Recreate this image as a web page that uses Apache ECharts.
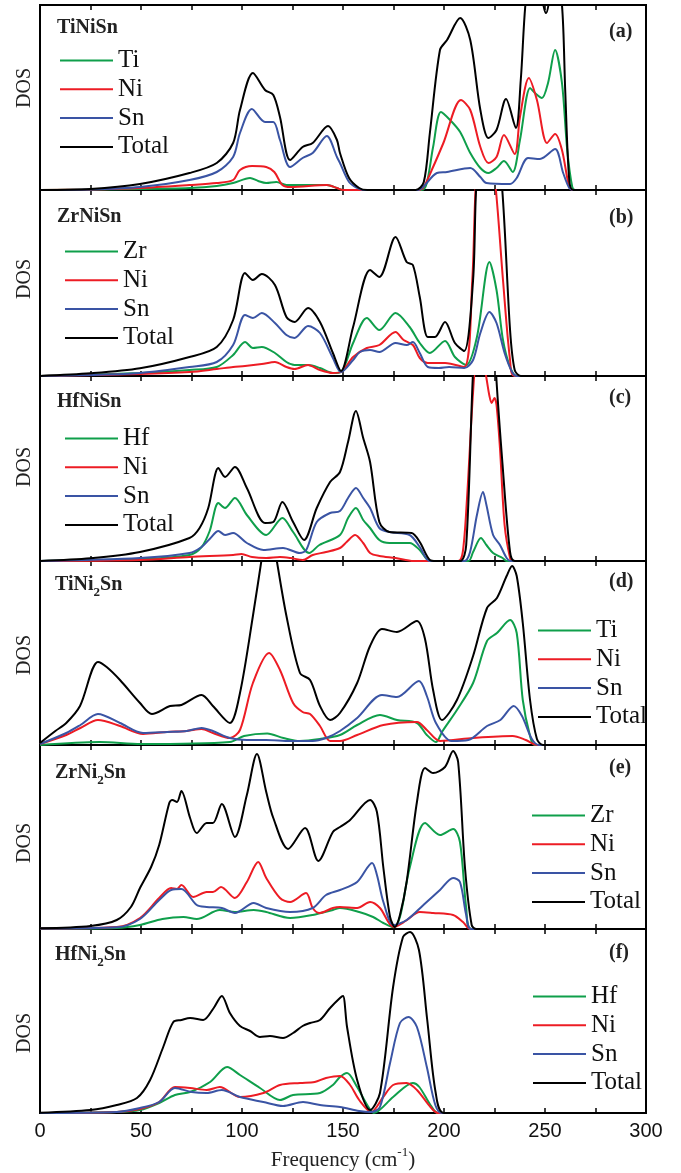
<!DOCTYPE html>
<html>
<head>
<meta charset="utf-8">
<script src="https://cdn.jsdelivr.net/npm/echarts@6/dist/echarts.min.js"></script>
<style>
  html, body { margin: 0; padding: 0; background: #fff; }
  #main { width: 681px; height: 1173px; }
</style>
</head>
<body>
<div id="main"></div>
<script>
// phonon DOS (arbitrary units, [frequency cm-1, DOS])
const compounds = ['TiNiSn', 'ZrNiSn', 'HfNiSn', 'TiNi2Sn', 'ZrNi2Sn', 'HfNi2Sn']
const panelTags = ['(a)', '(b)', '(c)', '(d)', '(e)', '(f)']
const elements = [
  ['Ti', 'Ni', 'Sn', 'Total'],
  ['Zr', 'Ni', 'Sn', 'Total'],
  ['Hf', 'Ni', 'Sn', 'Total'],
  ['Ti', 'Ni', 'Sn', 'Total'],
  ['Zr', 'Ni', 'Sn', 'Total'],
  ['Hf', 'Ni', 'Sn', 'Total']
]

// (a) TiNiSn
const aTi = [[0,0],[49.5,1],[74,2],[87.5,4],[95.6,7],[104,12],[108,9],[112,7],[117,8],[122,5],[130,5],[142,5],[147,2],[150,0],[189,0],[191.5,7],[194.6,43],[198.5,78],[203,70],[208,58],[213,37],[218,22],[222,17],[226,22],[229.7,29],[234,18],[237.6,50],[242.6,102],[245,97],[248.5,92],[251.5,107],[255,140],[258.4,107],[261,40],[263.5,3],[265,0],[300,0]]
const aNi = [[0,0],[25,0.5],[49.5,2],[74,5],[87.5,7],[95.6,10],[99,20],[105,24],[112,23],[116,18],[120,5],[124,3],[142,5],[147,2],[150,0],[187,0],[189.6,2],[194.6,23],[199.7,47],[208.4,90],[213,80],[218,43],[222,27],[226,33],[229.7,55],[235,36],[237.6,73],[242,112],[246,90],[251,47],[255,56],[258.4,40],[262,3],[264,0],[300,0]]
const aSn = [[0,0],[25,0.5],[49.5,3],[74,10],[87.5,18],[95.6,33],[99,57],[104.9,81],[111.4,68],[115.5,68],[118.8,50],[123.8,23],[130,32],[135,37],[142,54],[147,33],[148.5,27],[153,8],[157,2],[160,0],[187,0],[189.6,3],[196.5,17],[201.5,18],[213,22],[218,13],[221,7],[232.7,6],[236,12],[241.6,32],[247.5,31],[255,41],[259,17],[262,2],[264,0],[300,0]]
const aTotal = [[0,0],[25,1],[49.5,6],[74,17],[87.5,27],[95.6,47],[99,80],[105.4,117],[111.4,100],[115.5,95],[118.8,73],[123.8,30],[130,43],[135,47],[142.6,64],[147,50],[148.5,37],[153,12],[158,2],[162,0],[186,0],[190,8],[193,57],[198,140],[201.5,150],[208,172],[213,150],[218,80],[222,52],[226,60],[230.7,91],[235.6,62],[238,110],[241,200],[245,225],[250.5,177],[255,225],[258.4,185],[260,100],[262,10],[264,0],[300,0]]

// (b) ZrNiSn
const bZr = [[0,0],[49.5,3],[74,6],[87.5,9],[95.6,21],[101.5,34],[105.4,28],[109.8,29],[116.3,23],[122,14],[126,11],[132.7,11],[138.6,8],[145,3],[149,4],[155,33],[161.8,58],[168,46],[176,63],[183,49],[188,33],[193,23],[200.5,35],[205.4,19],[211,11],[216.3,39],[222.5,114],[226,86],[229.2,36],[232.7,9],[236,0],[300,0]]
const bNi = [[0,0],[49.5,2],[74,4],[87.5,7],[95.6,9],[101.5,10],[109.8,12],[116.3,14],[122,9],[126,7],[132.7,11],[138.6,6],[145,3],[149,4],[155,19],[161.8,28],[168,31],[176,44],[180,36],[184.6,31],[188,18],[192,13],[200.5,13],[210,9],[214,96],[216,200],[220,260],[225,200],[229.2,96],[232.7,16],[235,0],[300,0]]
const bSn = [[0,0],[25,1],[49.5,3],[74,9],[87.5,14],[95.6,31],[101.5,61],[105.4,58],[109.8,63],[116.3,53],[122,41],[126,38],[132.7,50],[138.6,43],[145,18],[149,4],[155,16],[158.4,24],[163.4,26],[168,24],[176,33],[181.5,31],[184.6,34],[188,23],[192,9],[197.5,8],[202.5,9],[210,8],[214.4,16],[218,43],[222.5,64],[226,53],[230,23],[233.7,4],[236,0],[300,0]]
const bTotal = [[0,0],[25,2.7],[49.5,7.7],[74,19],[87.5,29],[95.6,56],[101.5,103],[105.4,96],[109.8,102],[116.3,91],[122,59],[126,54],[132.7,68],[138.6,54],[145,23],[149,5],[155,49],[163.4,106],[168,99],[176,139],[181.5,114],[184.6,111],[188,79],[192,39],[195.5,39],[200.5,54],[205.4,33],[210,25],[214.4,96],[216,190],[219,240],[225,240],[228.7,190],[232.7,46],[235,6],[238,0],[300,0]]

// (c) HfNiSn
const cHf = [[0,0],[49.5,2],[74,6],[80,14],[84,30],[88.3,58],[91.6,53],[96.5,63],[102.4,46],[112,26],[120,43],[125.3,29],[133.3,8],[138.3,16],[148.5,26],[152.5,43],[156.4,53],[160,41],[163.4,33],[168,21],[173,18],[183,18],[188,11],[193,0],[212,0],[214.4,9],[218.3,23],[221,16],[224.3,8],[229,3],[231,0],[300,0]]
const cNi = [[0,0],[49.5,1],[74,4],[95.6,6],[99.7,7],[105,4],[112,3],[118.8,4],[124,3],[130,1],[135,6],[141.6,9],[148.5,13],[151.8,19],[156,26],[160,18],[163.4,8],[168,5],[176,3],[185,0],[207,0],[209.3,9],[211.4,63],[214.4,169],[216,200],[219,205],[221,183],[222.5,165],[223.6,158],[225,163],[226,156],[227.7,113],[230,36],[232.7,3],[234,0],[300,0]]
const cSn = [[0,0],[49.5,3],[74,8],[80,14],[84,22],[88.3,30],[91.6,26],[95.6,28],[102.4,18],[110.6,11],[120.3,13],[128.6,8],[131.8,11],[137,39],[143.6,48],[148.5,50],[152.5,63],[156.4,73],[160,63],[163.4,53],[168,33],[173,29],[183,26],[188,14],[193,0],[210,0],[212.9,9],[216.3,46],[219.3,69],[221,56],[224.3,26],[227.7,16],[231,3],[233,0],[300,0]]
const cTotal = [[0,0],[25,2.7],[49.5,9],[74,23],[79,33],[83.3,53],[88.3,93],[91.6,84],[96.5,94],[102.4,73],[111.4,38],[115.5,39],[120,59],[125.3,39],[130.7,21],[137,53],[143.6,79],[148.5,89],[152.5,119],[156.4,150],[160,123],[163.4,99],[168,39],[173,29],[184,28],[188,19],[193,1],[196,0],[208,0],[211,16],[214.4,190],[218,300],[223,300],[225.7,190],[229,96],[232.7,9],[235,0],[300,0]]

// (d) TiNi2Sn
const dTi = [[0,0],[29.5,3],[50,1],[94,3],[101,9],[112.5,11.5],[120.5,7],[128.6,4],[138.6,6],[148.5,10],[157,20],[168.3,30],[176.7,25],[186.6,22],[191.5,10],[196,3],[199.3,14],[206.4,35],[214.4,62],[221.3,104],[226.2,112],[232.7,125],[236,112],[239,45],[242.6,9],[245,0],[300,0]]
const dNi = [[0,1],[13,10],[20,17],[28.7,25],[39.6,19],[51,11],[62.9,13],[72.6,14],[80,16],[85.6,12],[94,7],[99,15],[105.4,62],[113.4,92],[118.8,75],[125.3,42],[130,33],[133.7,31],[138.6,19],[143.6,4],[148.5,4],[157,10],[170,20],[186.6,23],[191.5,15],[198,4],[214.4,7],[234,9],[240.5,5],[246,0],[300,0]]
const dSn = [[0,1],[13,12],[20,20],[28.7,31],[39.6,22],[51,12],[62.9,13],[72.6,14],[80,17],[85.6,14],[94,7],[102.4,5],[112,5],[124,4],[135,4],[141.6,7],[148.5,14],[157,27],[169.3,50],[176.7,48],[187.6,64],[191.5,49],[196,22],[203.7,4],[212,5],[221.3,19],[227.9,25],[234.5,39],[238.6,29],[243.5,6],[247,0],[300,0]]
const dTotal = [[0,2],[7.6,14],[13,22],[19.8,39],[28.7,83],[33,78],[39.6,65],[49.5,42],[55.4,31],[64.4,39],[70,40],[80,50],[85.6,39],[94,22],[99,52],[105.4,129],[110.4,195],[113,230],[116.3,195],[122,129],[128.7,72],[133.7,65],[138.6,39],[143.6,25],[148.5,32],[157,62],[163.4,99],[169.3,116],[176.7,113],[186.6,124],[190.6,106],[194.6,55],[199,25],[206.4,45],[214.4,89],[221.3,137],[226.2,147],[231,169],[233.7,179],[236,169],[239,122],[242.6,45],[246,6],[249,0],[300,0]]

// (e) ZrNi2Sn
const eZr = [[0,0.3],[38,1],[49.5,4],[60.6,10],[71,12],[77.6,10],[89,19],[96.5,17],[105.8,19],[112,17],[123.8,11],[135,14],[145,19],[148.5,21],[158,17],[164.9,12],[170,6],[175,1.7],[178.2,12],[183,61],[190.6,106],[198,94],[204.5,100],[207.9,87],[211,21],[213.5,0],[300,0]]
const eNi = [[0,0.5],[38,2],[49.5,11],[59,31],[64.9,41],[67.8,40],[70,44],[75.9,32],[82.5,37],[85.6,37],[89.6,42],[96.5,31],[102.4,47],[108,67],[112,51],[118.8,31],[123.8,27],[131.7,36],[135,21],[138.3,16],[145,21],[148.5,22],[157,21],[163.4,27],[168.3,21],[175,2],[181,8],[188,17],[194.6,16],[204.5,14],[209.4,7],[213,0],[300,0]]
const eSn = [[0,0.5],[38,1.7],[49.5,10],[59,29],[64.9,39],[70,40],[77.6,24],[82.5,22],[90,21],[96.5,16],[105.8,26],[112,21],[123.8,17],[135,21],[141.6,34],[148.5,39],[157,47],[164.4,66],[166.8,54],[170,27],[175,4],[181.5,9],[189.8,24],[198,39],[204.5,51],[207.9,47],[211,14],[213.5,0],[300,0]]
const eTotal = [[0,0.7],[25,3],[38,9],[45,22],[49.5,41],[55,62],[59,84],[64,126],[65.5,129],[67.8,127],[70,138],[74.3,111],[77.6,96],[82.5,106],[85.6,106],[90,125],[96.5,92],[102.4,134],[107.4,175],[112,137],[115.5,111],[122.8,80],[131.2,101],[137.8,68],[145,97],[148.5,102],[153.5,109],[163.4,129],[166.8,117],[170,61],[173.3,12],[175.7,2],[178.2,14],[181.5,47],[186.6,127],[190.6,161],[194.6,156],[200.5,162],[204.5,178],[207,167],[210.4,61],[213.7,4],[216,0],[300,0]]

// (f) HfNi2Sn
const fHf = [[0,0],[38,1],[49.5,3],[59,10],[66.8,18],[74.3,21],[84.2,31],[92.6,46],[99,38],[108.9,25],[118.8,13],[125.3,18],[138.6,20],[145,28],[148.5,36],[152,40],[157,26],[162,8],[165.3,0],[174.8,16],[184.6,30],[187.8,26],[193.3,8],[197,0],[300,0]]
const fNi = [[0,0],[38,1],[49.5,4],[59,11],[66.8,26],[74.3,25],[82.5,23],[89,26],[99,16],[110.6,20],[118.8,28],[128.7,30],[136,31],[141.6,35],[148.5,37],[153.5,28],[158,13],[164,1],[169.9,16],[174.8,28],[181.5,30],[186.6,23],[193.3,6],[197,0],[300,0]]
const fSn = [[0,0],[38,1],[49.5,5],[59,11],[66.8,25],[75.1,21],[82.5,20],[90,23],[99,16],[110.6,11],[120.3,7],[130.2,11],[138.6,8],[148.5,6],[158,2],[164,1],[168.3,6],[173.3,50],[178.2,90],[182.4,96],[186.6,86],[191.5,46],[195.7,8],[199,0],[300,0]]
const fTotal = [[0,0.3],[25,3],[38,8],[48,15],[54.5,33],[61,66],[66,91],[70,93],[74.3,95],[80.8,93],[86,105],[90,117],[94,100],[99,87],[104,82],[108.9,76],[113.8,77],[120.3,75],[125.3,80],[130,87],[133.7,90],[138.6,93],[143.6,105],[148.5,115],[150,117],[152,86],[157,33],[163.4,3],[168.3,20],[174.8,126],[179.7,176],[183.2,181],[187.6,163],[191.7,93],[195.9,20],[200,0],[300,0]]

const dosData = [
  [aTi, aNi, aSn, aTotal],
  [bZr, bNi, bSn, bTotal],
  [cHf, cNi, cSn, cTotal],
  [dTi, dNi, dSn, dTotal],
  [eZr, eNi, eSn, eTotal],
  [fHf, fNi, fSn, fTotal]
]

// layout (pixels)
const gridTop = [5, 190, 376, 561, 745, 929]
const gridH = [185, 186, 185, 184, 184, 184]
const legendPos = [[60, 48], [65, 239], [65, 426], [538, 618], [532, 803], [533, 984]]
const titlePos = [[57, 28], [57, 217], [57, 402], [55, 585], [55, 773], [55, 955]]
const tagPos = [[609, 32], [609, 218], [609, 398], [609, 582], [609, 768], [609, 953]]
const dosY = [88, 279, 467, 655, 843, 1033]
const lineColors = ['#0f9f4b', '#ed1c24', '#3a54a4', '#000000']

const serif = 'Liberation Serif'
const ctx = document.createElement('canvas').getContext('2d')
function textW (t, font) {
  ctx.font = font
  return ctx.measureText(t).width
}

// text made of runs (for sub/superscripts), left-aligned at x
function runs (x, y, parts) {
  let cx = x
  return parts.map(p => {
    const font = p.font
    const el = {
      type: 'text',
      x: cx,
      y: y + (p.dy || 0),
      style: { text: p.t, font: font, fill: '#222', textAlign: 'left', textVerticalAlign: 'middle' }
    }
    cx += textW(p.t, font)
    return el
  })
}

const chart = echarts.init(document.getElementById('main'))

const grids = []
const xAxes = []
const yAxes = []
const series = []
const legends = []
let graphics = []

compounds.forEach((name, i) => {
  grids.push({
    left: 40, width: 606, top: gridTop[i], height: gridH[i],
    show: true, borderColor: '#000', borderWidth: 2, backgroundColor: 'transparent'
  })
  const last = i === compounds.length - 1
  xAxes.push({
    gridIndex: i, type: 'value', min: 0, max: 300, interval: 25, position: 'bottom',
    axisLine: { show: false },
    axisTick: { show: true, inside: true, length: 5, lineStyle: { color: '#000', width: 1.5 } },
    axisLabel: {
      show: last, margin: 8, color: '#111', fontFamily: 'Liberation Sans', fontSize: 20,
      formatter: v => (v % 50 === 0 ? String(v) : '')
    },
    splitLine: { show: false }
  })
  xAxes.push({
    gridIndex: i, type: 'value', min: 0, max: 300, interval: 25, position: 'top',
    axisLine: { show: false },
    axisTick: { show: true, inside: true, length: 5, lineStyle: { color: '#000', width: 1.5 } },
    axisLabel: { show: false },
    splitLine: { show: false }
  })
  yAxes.push({
    gridIndex: i, type: 'value', min: 0, max: gridH[i],
    axisLine: { show: false }, axisTick: { show: false }, axisLabel: { show: false }, splitLine: { show: false }
  })

  elements[i].forEach((el, k) => {
    series.push({
      name: el,
      type: 'line',
      xAxisIndex: i * 2,
      yAxisIndex: i,
      data: dosData[i][k],
      symbol: 'none',
      smooth: 0.3,
      clip: true,
      lineStyle: { color: lineColors[k], width: 2 },
      itemStyle: { color: lineColors[k] }
    })
  })

  legends.push({
    data: elements[i],
    orient: 'vertical',
    left: legendPos[i][0],
    top: legendPos[i][1],
    padding: 0,
    icon: 'rect',
    itemWidth: 53,
    itemHeight: 2,
    itemGap: 3.8,
    selectedMode: false,
    textStyle: { fontFamily: serif, fontSize: 25, lineHeight: 25, color: '#111' }
  })

  // compound name, subscript 2 for the full-Heusler ones
  const bold = 'bold 20px "' + serif + '"'
  const sub = 'bold 13px "' + serif + '"'
  const m = name.match(/^(.*Ni)(2)(Sn)$/)
  const parts = m
    ? [{ t: m[1], font: bold }, { t: m[2], font: sub, dy: 8 }, { t: m[3], font: bold }]
    : [{ t: name, font: bold }]
  graphics = graphics.concat(runs(titlePos[i][0], titlePos[i][1], parts))

  graphics.push({
    type: 'text', x: tagPos[i][0], y: tagPos[i][1],
    style: { text: panelTags[i], font: bold, fill: '#222', textAlign: 'left', textVerticalAlign: 'middle' }
  })
  graphics.push({
    type: 'text', x: 25, y: dosY[i], rotation: Math.PI / 2,
    style: { text: 'DOS', font: '20px "' + serif + '"', fill: '#222', textAlign: 'center', textVerticalAlign: 'middle' }
  })
})

// x axis title: Frequency (cm-1)
const fMain = '21px "' + serif + '"'
const fSup = '13px "' + serif + '"'
const xtParts = [{ t: 'Frequency (cm', font: fMain }, { t: '-1', font: fSup, dy: -7 }, { t: ')', font: fMain }]
const xtW = xtParts.reduce((s, p) => s + textW(p.t, p.font), 0)
graphics = graphics.concat(runs(343 - xtW / 2, 1160, xtParts))

chart.setOption({
  backgroundColor: '#fff',
  animation: false,
  grid: grids,
  xAxis: xAxes,
  yAxis: yAxes,
  legend: legends,
  series: series,
  graphic: graphics
})
</script>
</body>
</html>
